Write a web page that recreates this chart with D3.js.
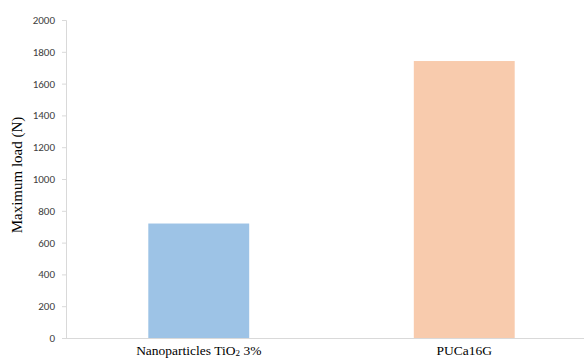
<!DOCTYPE html>
<html>
<head>
<meta charset="utf-8">
<script src="https://cdn.jsdelivr.net/npm/d3@7"></script>
<style>
  html, body { margin: 0; padding: 0; background: #fff; }
  svg { display: block; }
</style>
</head>
<body>
<svg id="chart" width="584" height="359"></svg>
<script>
// Maximum load per sample
const categories = ["Nanoparticles TiO2 3%", "PUCa16G"];
const loads = [720, 1742];
const barColors = ["#9dc3e6", "#f8cbad"];
const yTicks = [0, 200, 400, 600, 800, 1000, 1200, 1400, 1600, 1800, 2000];

(function () {
  const svg = d3.select("#chart");
  const plotLeft = 66, plotRight = 597, plotTop = 20, plotBottom = 338;

  const x = d3.scaleBand().domain(categories).range([plotLeft, plotRight]).paddingInner(0.62).paddingOuter(0.31);
  const y = d3.scaleLinear().domain([0, 2000]).range([plotBottom, plotTop]);

  // y axis
  const yAxis = svg.append("g")
    .attr("transform", `translate(${plotLeft},0)`)
    .call(d3.axisLeft(y).tickValues(yTicks).tickSize(4).tickPadding(7).tickFormat(d3.format("d")));
  yAxis.select(".domain").attr("stroke", "#d9d9d9");
  yAxis.selectAll(".tick line").attr("stroke", "#d9d9d9");
  yAxis.selectAll(".tick text")
    .attr("fill", "#404040")
    .style("font-family", "Carlito, 'Liberation Sans', Arial, sans-serif")
    .style("font-size", "11px");

  // bars
  svg.append("g").selectAll("rect")
    .data(categories)
    .join("rect")
    .attr("x", d => x(d))
    .attr("width", x.bandwidth())
    .attr("y", (d, i) => y(loads[i]))
    .attr("height", (d, i) => y(0) - y(loads[i]))
    .attr("fill", (d, i) => barColors[i]);

  // baseline
  svg.append("line")
    .attr("x1", plotLeft).attr("x2", 584)
    .attr("y1", y(0) + 0.5).attr("y2", y(0) + 0.5)
    .attr("stroke", "#d9d9d9").attr("stroke-width", 1);

  // category labels
  const catG = svg.append("g")
    .style("font-family", "'Liberation Serif', 'Times New Roman', serif")
    .style("font-size", "13.5px")
    .attr("fill", "#000");

  categories.forEach(c => {
    const t = catG.append("text")
      .attr("x", x(c) + x.bandwidth() / 2)
      .attr("y", 354.5)
      .attr("text-anchor", "middle");
    const m = c.match(/^(.*TiO)2(.*)$/);
    if (m) {
      t.append("tspan").text(m[1]);
      t.append("tspan").text("2").style("font-size", "9px").attr("dy", 1.5);
      t.append("tspan").text(m[2]).attr("dy", -1.5);
    } else {
      t.text(c);
    }
  });

  // y axis title
  svg.append("text")
    .attr("transform", `translate(22,${(plotTop + plotBottom) / 2 - 4}) rotate(-90)`)
    .attr("text-anchor", "middle")
    .style("font-family", "'Liberation Serif', 'Times New Roman', serif")
    .style("font-size", "15px")
    .attr("fill", "#000")
    .text("Maximum load (N)");
})();
</script>
</body>
</html>
